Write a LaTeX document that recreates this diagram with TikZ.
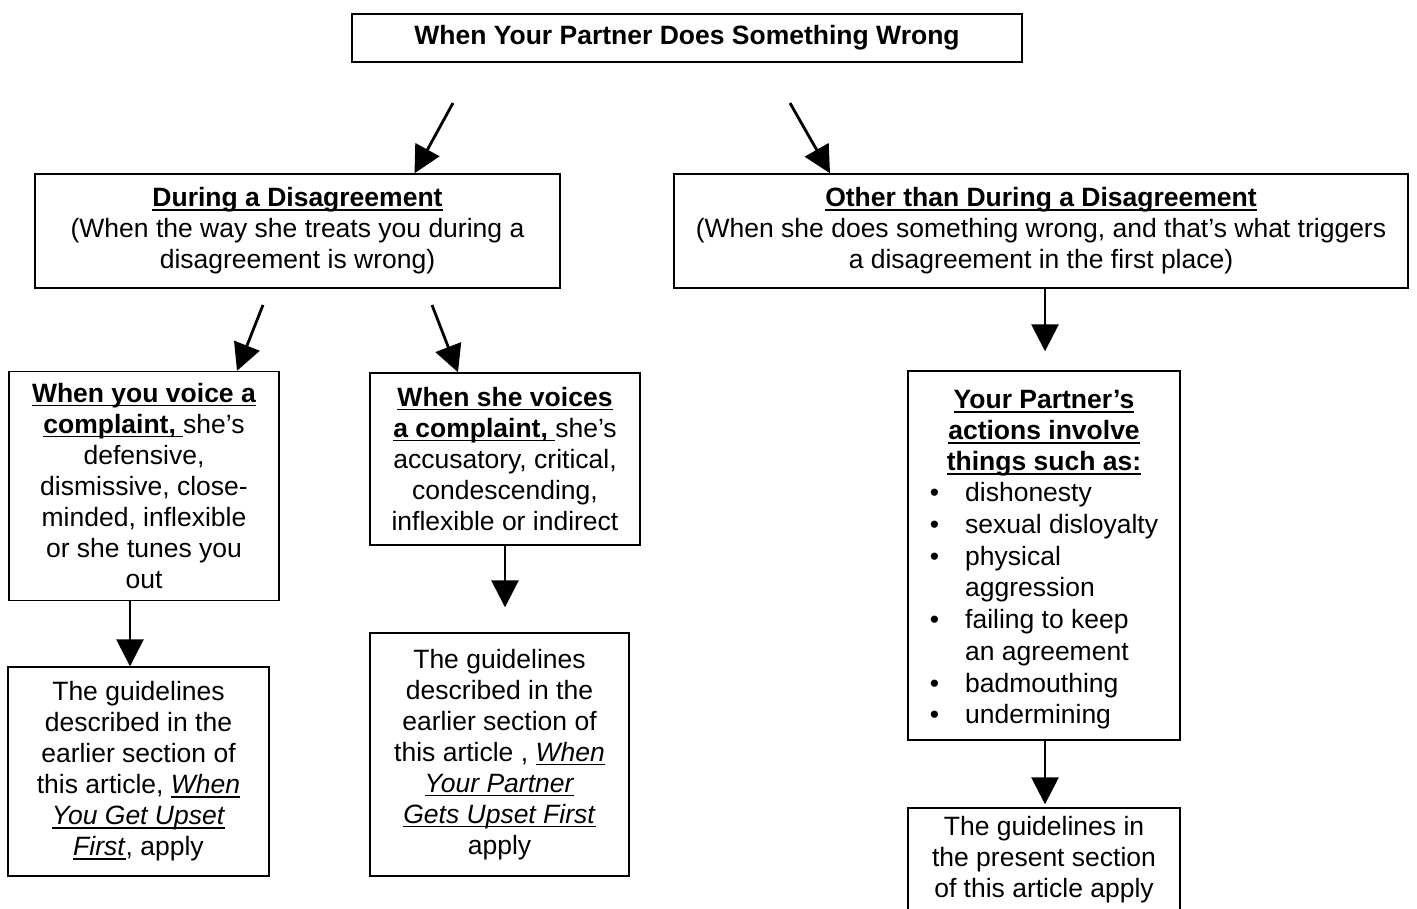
\documentclass[tikz,border=0pt]{standalone}
\usepackage{fontspec}
\setmainfont{Liberation Sans}
\usetikzlibrary{arrows.meta}

% подчёркивание
\newcommand{\uln}[1]{\setbox0\hbox{#1}\rlap{\rule[-4pt]{\wd0}{1.6pt}}\box0}

\tikzset{
    box/.style={draw, line width=1.4pt, align=center, inner sep=0pt,
        font=\fontsize{26.5}{31}\selectfont},
    arr/.style={line width=2.8pt, -{Triangle[length=27pt,width=27pt]}},
}

\begin{document}
\begin{tikzpicture}[x=1pt,y=-1pt]
    \useasboundingbox (0,0) rectangle (1417,909);

    % Верхний блок
    \node[box, minimum width=670pt, minimum height=48pt] (top) at (687,38)
        {\textbf{When Your Partner Does Something Wrong}};

    % Две ветви
    \node[box, minimum width=525pt, minimum height=114pt] (dis) at (297.5,231)
        {\uln{\textbf{During a Disagreement}}\\
         (When the way she treats you during a\\
         disagreement is wrong)};
    \node[box, minimum width=734pt, minimum height=114pt] (oth) at (1041,231)
        {\uln{\textbf{Other than During a Disagreement}}\\
         (When she does something wrong, and that’s what triggers\\
         a disagreement in the first place)};

    % Жалобы
    \node[box, minimum width=270pt, minimum height=229pt] (you) at (144,486)
        {\uln{\textbf{When you voice a}}\\
         \uln{\textbf{complaint, }}she’s\\
         defensive,\\
         dismissive, close-\\
         minded, inflexible\\
         or she tunes you\\
         out};
    \node[box, minimum width=270pt, minimum height=172pt] (she) at (505,459)
        {\uln{\textbf{When she voices}}\\
         \uln{\textbf{a complaint, }}she’s\\
         accusatory, critical,\\
         condescending,\\
         inflexible or indirect};

    % Действия партнёра
    \node[box, minimum width=272pt, minimum height=369pt] (act) at (1044,555.5)
        {\rule{0pt}{31pt}\uln{\textbf{Your Partner’s}}\\
         \uln{\textbf{actions involve}}\\
         \uln{\textbf{things such as:}}\\
         \renewcommand{\arraystretch}{1.025}%
         \begin{tabular}[t]{@{}c@{\hspace{26pt}}l@{}}
             \textbullet & dishonesty\\
             \textbullet & sexual disloyalty\\
             \textbullet & physical\\
                         & aggression\\
             \textbullet & failing to keep\\
                         & an agreement\\
             \textbullet & badmouthing\\
             \textbullet & undermining
         \end{tabular}};

    % Рекомендации
    \node[box, minimum width=261pt, minimum height=209pt] (gyou) at (138.5,771.5)
        {The guidelines\\
         described in the\\
         earlier section of\\
         this article, \uln{\textit{When}}\\
         \uln{\textit{You Get Upset}}\\
         \uln{\textit{First}}, apply};
    \node[box, minimum width=259pt, minimum height=243pt] (gshe) at (499.5,754.5)
        {The guidelines\\
         described in the\\
         earlier section of\\
         this article , \uln{\textit{When}}\\
         \uln{\textit{Your Partner}}\\
         \uln{\textit{Gets Upset First}}\\
         apply};
    \node[box, minimum width=272pt, minimum height=103pt] (gact) at (1044,859.5)
        {The guidelines in\\
         the present section\\
         of this article apply};

    % Стрелки
    \coordinate (topl) at (453,103);
    \coordinate (topr) at (790,103);
    \coordinate (disl) at (263,305);
    \coordinate (disr) at (432,305);
    \draw[arr] (topl) -- ([xshift=117pt]dis.north);
    \draw[arr] (topr) -- ([xshift=-211pt]oth.north);
    \draw[arr] (disl) -- ([xshift=93pt]you.north);
    \draw[arr] (disr) -- ([xshift=-47pt]she.north);
    \draw[arr, shorten >=19pt] ([xshift=1pt]act.north |- oth.south) -- ([xshift=1pt]act.north);
    \draw[arr] ([xshift=-14pt]you.south) -- ([xshift=-8.5pt]gyou.north);
    \draw[arr, shorten >=25pt] (she.south) -- ([xshift=5.5pt]gshe.north);
    \draw[arr, shorten >=3pt] ([xshift=1pt]act.south) -- ([xshift=1pt]gact.north);
\end{tikzpicture}
\end{document}
